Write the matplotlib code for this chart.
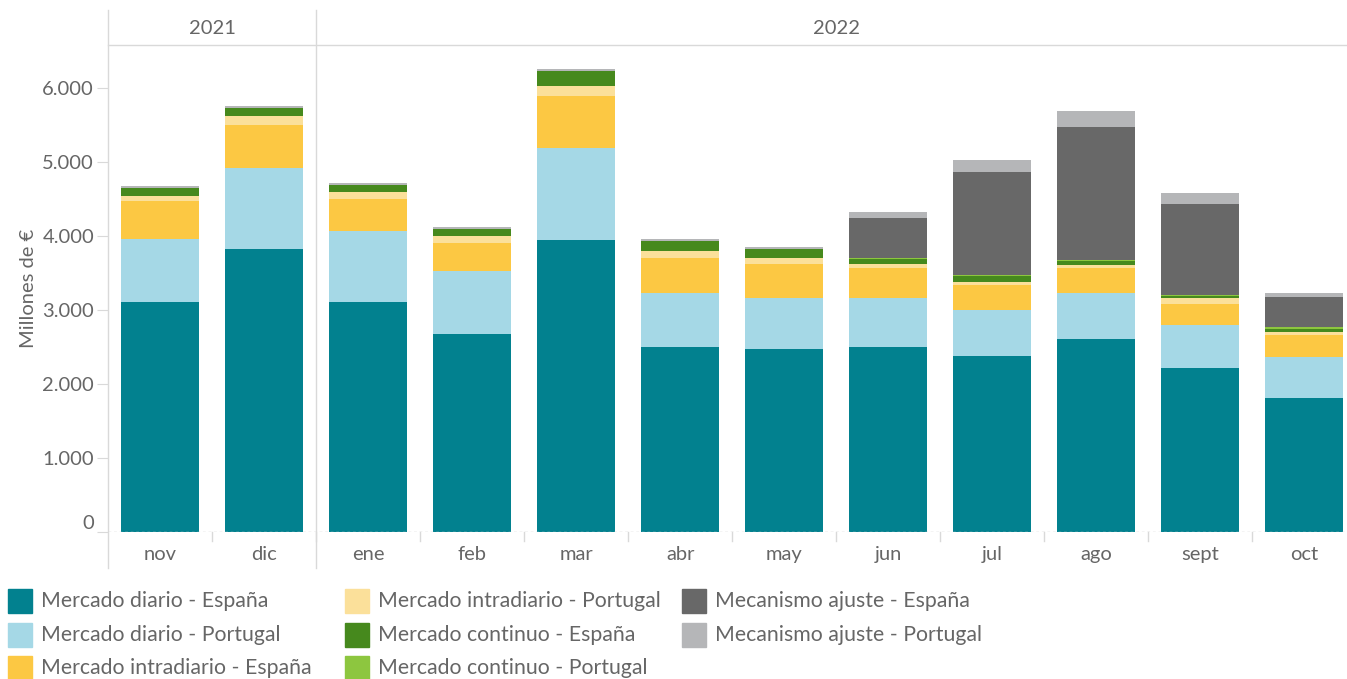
import numpy as np
import matplotlib
matplotlib.use("Agg")
import matplotlib.pyplot as plt
from matplotlib.lines import Line2D
from matplotlib.patches import Rectangle

# meses y años
meses = ["nov", "dic", "ene", "feb", "mar", "abr", "may", "jun", "jul", "ago", "sept", "oct"]
anios = ["2021", "2022"]
meses_por_anio = [2, 10]

# millones de euros por componente
diario_es = [3108, 3824, 3108, 2676, 3946, 2500, 2473, 2500, 2378, 2613, 2216, 1811]
diario_pt = [850, 1099, 960, 851, 1247, 725, 693, 662, 626, 617, 581, 549]
intradiario_es = [514, 577, 432, 378, 699, 482, 460, 410, 334, 342, 288, 302]
intradiario_pt = [63, 122, 95, 95, 135, 90, 81, 50, 40, 36, 81, 41]
continuo_es = [108, 108, 94, 95, 203, 135, 117, 67, 81, 54, 27, 40]
continuo_pt = [0, 0, 0, 0, 0, 0, 0, 14, 14, 14, 14, 27]
ajuste_es = [0, 0, 0, 0, 0, 0, 0, 540, 1392, 1797, 1225, 406]
ajuste_pt = [27, 27, 27, 27, 27, 27, 27, 81, 162, 216, 149, 54]

series = [
    ("Mercado diario - España", diario_es, "#02818f"),
    ("Mercado diario - Portugal", diario_pt, "#a5d8e6"),
    ("Mercado intradiario - España", intradiario_es, "#fcc843"),
    ("Mercado intradiario - Portugal", intradiario_pt, "#fbe09a"),
    ("Mercado continuo - España", continuo_es, "#46891d"),
    ("Mercado continuo - Portugal", continuo_pt, "#8dc63f"),
    ("Mecanismo ajuste - España", ajuste_es, "#686868"),
    ("Mecanismo ajuste - Portugal", ajuste_pt, "#b5b6b8"),
]

plt.rcParams["font.family"] = ["Lato", "DejaVu Sans"]
W, H = 1347, 679
GRIS = "#d9d9d9"
TXT = "#666666"
FS = 14.5


def fx(px):
    return px / W


def fy(py):
    return 1 - py / H


fig = plt.figure(figsize=(W / 100, H / 100), dpi=100)
ax = fig.add_axes([fx(108), fy(532), fx(1347) - fx(108), fy(45) - fy(532)])

x = np.arange(len(meses))
base = np.zeros(len(meses))
for nombre, vals, color in series:
    ax.bar(x, vals, width=0.75, bottom=base, color=color, linewidth=0)
    base += np.array(vals)

ax.set_xlim(-0.5, 11.41)
ax.set_ylim(0, 6581)
for s in ax.spines.values():
    s.set_visible(False)

ax.set_yticks(range(0, 7000, 1000))
ax.set_yticklabels([f"{v:,}".replace(",", ".") for v in range(0, 7000, 1000)])
ax.tick_params(axis="y", length=8, color=GRIS, labelcolor=TXT, labelsize=FS, pad=2)
ax.get_yticklabels()[0].set_va("bottom")
ax.set_xticks(x)
ax.set_xticklabels(meses)
ax.tick_params(axis="x", length=0, labelcolor=TXT, labelsize=FS, pad=10)
ax.set_ylabel("Millones de €", color=TXT, fontsize=FS, labelpad=4)

# línea base punteada
ax.axhline(0, color="#c8c8c8", lw=1, ls=(0, (2, 2)))

# marcas entre meses bajo el eje
for b in np.arange(0.5, len(meses) - 1, 1.0):
    ax.plot([b, b], [0, -0.018], transform=ax.get_xaxis_transform(), color=GRIS,
            lw=1, clip_on=False)

# cabecera de años y separadores
fig.add_artist(Line2D([fx(108), fx(1347)], [fy(45), fy(45)], color=GRIS, lw=1))
fig.add_artist(Line2D([fx(108), fx(108)], [fy(10), fy(568)], color=GRIS, lw=1))
sep = ax.transData.transform((meses_por_anio[0] - 0.5, 0))[0]
fig.add_artist(Line2D([fx(sep), fx(sep)], [fy(10), fy(568)], color=GRIS, lw=1))
ini = -0.5
for anio, n in zip(anios, meses_por_anio):
    xc = ax.transData.transform((ini + n / 2, 0))[0]
    fig.text(fx(xc), fy(29), anio, ha="center", va="center", color=TXT, fontsize=FS)
    ini += n

# leyenda en tres columnas
col_x = [8, 345, 682]
fila_y = [601, 635, 668]
for i, (nombre, vals, color) in enumerate(series):
    cx, cy = col_x[i // 3], fila_y[i % 3]
    fig.add_artist(Rectangle((fx(cx), fy(cy + 12)), fx(24), 24 / H, color=color,
                             transform=fig.transFigure))
    fig.text(fx(cx + 33), fy(cy), nombre, ha="left", va="center", color=TXT, fontsize=15.3)

fig.savefig("out.png", dpi=100)
